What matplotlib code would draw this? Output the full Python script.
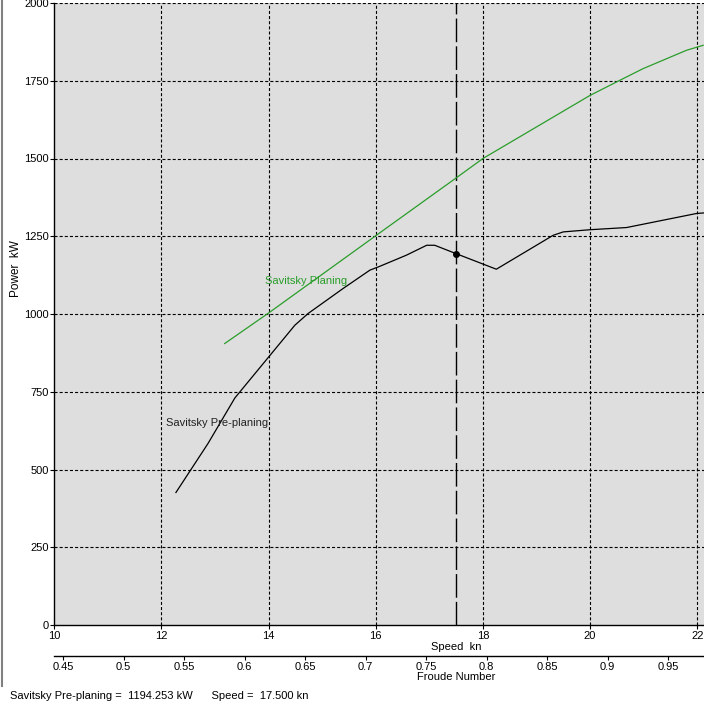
import matplotlib.pyplot as plt
import matplotlib.lines as mlines
from matplotlib.ticker import FixedLocator

plt.rcParams['font.family'] = ['Liberation Sans', 'DejaVu Sans']
plt.rcParams['lines.scale_dashes'] = False

# speed (kn) vs power (kW)
pre_speed = [12.27, 12.87, 13.37, 14.49, 14.74, 15.39, 15.89, 16.07, 16.57, 16.95,
             17.1, 17.5, 18.25, 19.31, 19.5, 20.0, 20.68, 21.98, 22.12]
pre_power = [426, 584, 730, 964, 1002, 1082, 1141, 1153, 1189, 1221,
             1221, 1194, 1144, 1253, 1264, 1271, 1278, 1323, 1325]

plan_speed = [13.18, 13.99, 16.01, 17.48, 18.0, 20.0, 20.55, 20.99, 21.8, 22.11]
plan_power = [905, 1002, 1253, 1435, 1500, 1703, 1751, 1789, 1848, 1864]

cursor_speed = 17.5
cursor_power = 1194.253
froude_per_kn = 0.04428

x_ticks = [10, 12, 14, 16, 18, 20, 22]
y_ticks = [0, 250, 500, 750, 1000, 1250, 1500, 1750, 2000]
fn_ticks = [0.45, 0.5, 0.55, 0.6, 0.65, 0.7, 0.75, 0.8, 0.85, 0.9, 0.95]

fig = plt.figure(figsize=(7.04, 7.04), dpi=100)
# the original window is cropped on the right, so the axes run past the edge
ax = fig.add_axes([54.3 / 704, 1 - 625 / 704, 1.1416, 622 / 704])
ax.set_facecolor('#dedede')
ax.set_xlim(10, 25)
ax.set_ylim(0, 2000)

grid_style = dict(color='black', lw=0.8, ls=(0, (2.2, 1.5)), zorder=1)
for v in x_ticks[1:]:
    ax.axvline(v, **grid_style)
for p in y_ticks[1:]:
    ax.axhline(p, **grid_style)

ax.plot(plan_speed, plan_power, color='#2a9d2a', lw=0.9, zorder=3)
ax.plot(pre_speed, pre_power, color='black', lw=0.9, zorder=3)
ax.axvline(cursor_speed, color='black', lw=1.0, ls=(0, (17, 3)), zorder=2)
ax.plot([cursor_speed], [cursor_power], 'o', color='black', ms=4, zorder=4)

ax.text(13.93, 1105, 'Savitsky Planing', color='#2a9d2a', fontsize=8, va='center')
ax.text(12.08, 649, 'Savitsky Pre-planing', color='#222222', fontsize=8, va='center')

for s in ['top', 'right']:
    ax.spines[s].set_visible(False)
ax.spines['left'].set_linewidth(1.0)
ax.spines['bottom'].set_linewidth(1.0)

ax.set_xticks(x_ticks)
ax.set_yticks(y_ticks)
ax.tick_params(labelsize=8, length=3, width=0.8, pad=1)
ax.set_xlabel('Speed  kn', fontsize=8, labelpad=1)

# froude number scale under the speed axis
sec = ax.secondary_xaxis(-0.0498, functions=(lambda v: v * froude_per_kn,
                                             lambda f: f / froude_per_kn))
sec.xaxis.set_major_locator(FixedLocator(fn_ticks))
sec.set_xticklabels([f'{f:g}' for f in fn_ticks])
sec.tick_params(labelsize=8, length=3, width=0.8, pad=1)
sec.spines['bottom'].set_linewidth(1.0)
sec.set_xlabel('Froude Number', fontsize=8, labelpad=0)

fig.text(16 / 704, 1 - 269 / 704, 'Power  kW', rotation=90, fontsize=8.5,
         ha='center', va='center')
fig.text(10 / 704, 1 - 696 / 704,
         'Savitsky Pre-planing =  %.3f kW      Speed =  %.3f kn' % (cursor_power, cursor_speed),
         fontsize=8, va='center')

fig.add_artist(mlines.Line2D([1.5 / 704, 1.5 / 704], [1 - 686 / 704, 1.0],
                             color='#808080', lw=1.5))

fig.savefig('out.png', dpi=100)
